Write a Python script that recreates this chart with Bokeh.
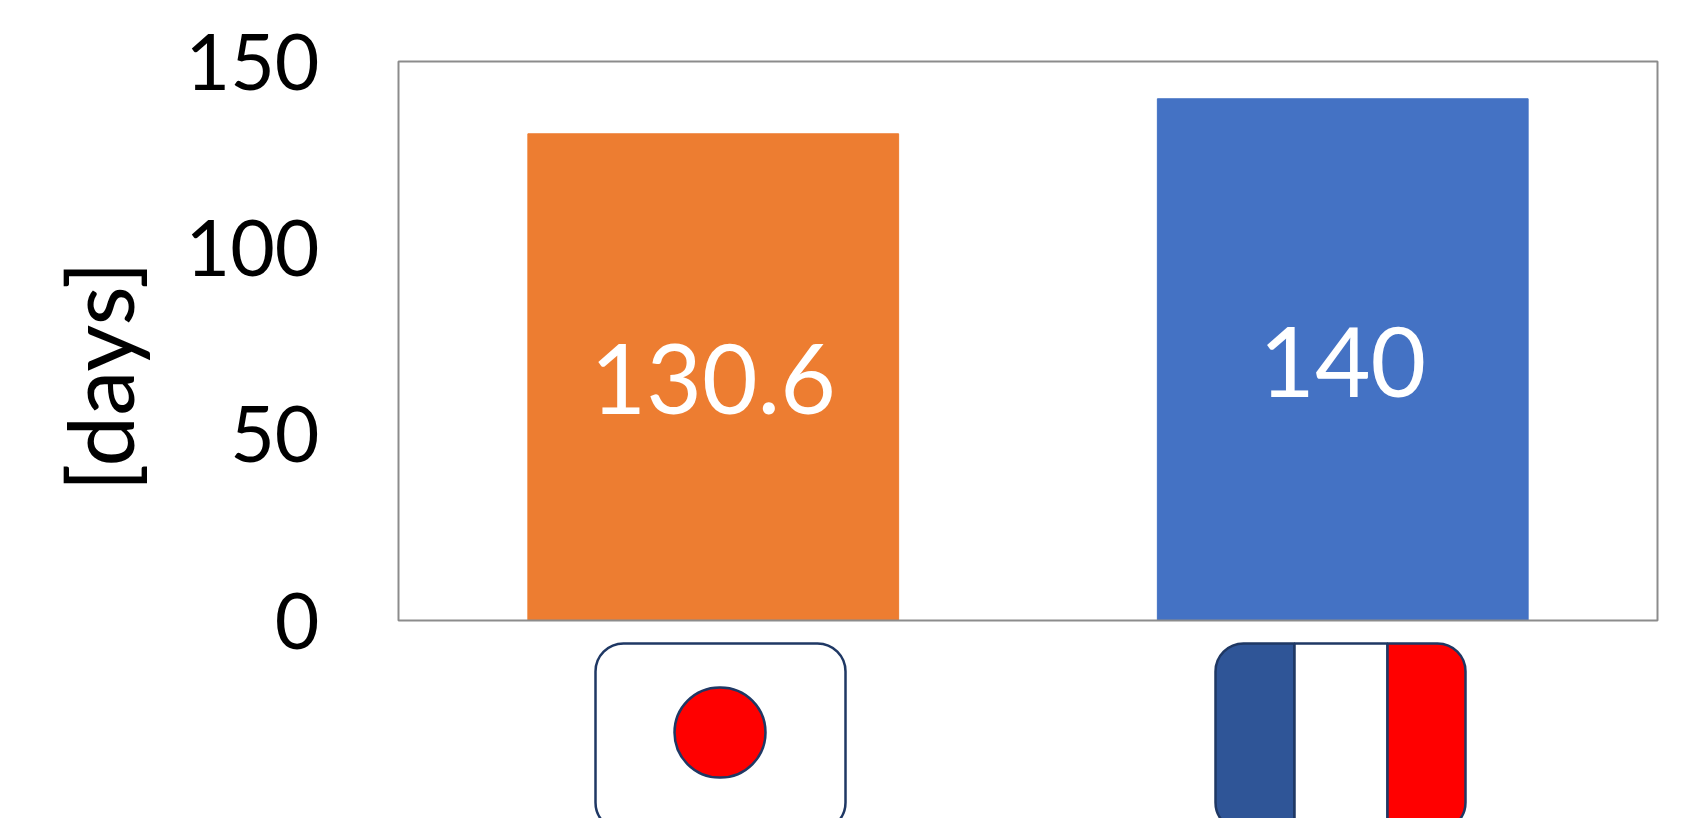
from bokeh.plotting import figure
from bokeh.models import ColumnDataSource, Range1d, FixedTicker, BoxAnnotation, Title
from bokeh.core.properties import value
from bokeh.embed import file_html
from bokeh.resources import INLINE

countries = ["Japan", "France"]
days = [130.6, 140]
labels = ["130.6", "140"]
bar_colors = ["#ED7D31", "#4472C4"]
y_ticks = [0, 50, 100, 150]
FONT = "Lato"

positions = [i + 0.5 for i in range(len(countries))]
src = ColumnDataSource(dict(x=positions, top=days, mid=[d / 2 for d in days],
                            label=labels, color=bar_colors))

# The frame runs down to the page's bottom so that the flags can sit inside it,
# and reaches 2px past the chart's box so that the box's border is not clipped.
PAD = 2
PX_PER_Y = 559 / 150
PX_PER_X = 1259 / 2
p = figure(x_range=Range1d(-PAD / PX_PER_X, 2 + PAD / PX_PER_X),
           y_range=Range1d(-(818 - 620) / PX_PER_Y, 150 + PAD / PX_PER_Y),
           width=1705, height=818, output_backend="svg", toolbar_location=None,
           min_border_left=398 - PAD, min_border_right=48 - PAD,
           min_border_top=61 - PAD, min_border_bottom=0)
p.extra_x_ranges = {"px": Range1d(398 - PAD, 1657 + PAD)}
p.extra_y_ranges = {"px": Range1d(818, 61 - PAD)}
p.vbar(x="x", top="top", width=0.589, color="color", source=src)
p.text(x="x", y="mid", text="label", source=src, text_color="white", text_align="center",
       text_baseline="middle", text_font=value(FONT), text_font_size="96px", y_offset=2)

p.grid.visible = False
p.xaxis.visible = False
ax = p.yaxis[0]
ax.ticker = FixedTicker(ticks=y_ticks)
ax.axis_line_color = None
ax.major_tick_line_color = None
ax.minor_tick_line_color = None
ax.major_label_text_font = FONT
ax.major_label_text_font_size = "77px"
ax.major_label_text_color = "black"
ax.major_label_standoff = 73 - PAD
p.outline_line_color = None
p.background_fill_color = "white"

p.add_layout(Title(text="[days]", align="left", offset=327, standoff=59, text_font=FONT,
                   text_font_style="normal", text_font_size="91px", text_color="black"), "left")

p.add_layout(BoxAnnotation(left=0, right=2, bottom=0, top=150, fill_alpha=0,
                           line_color="#8C8C8C", line_alpha=1, line_width=2, level="overlay"))

EDGE = "#1F3864"


def box(l, r, t, b, fill, radius=0):
    p.add_layout(BoxAnnotation(left=l, right=r, top=t, bottom=b,
                               x_range_name="px", y_range_name="px",
                               fill_color=fill, fill_alpha=1, line_color=EDGE, line_alpha=1,
                               line_width=2.5, border_radius=radius, level="overlay"))


# Japan flag
box(595, 845, 643, 830, "white", 28)
box(674, 765, 687, 777, "#FF0000", 45)
# France flag
box(1215, 1294, 643, 830, "#2F5597", (28, 0, 0, 28))
box(1294, 1387, 643, 830, "white", 0)
box(1387, 1465, 643, 830, "#FF0000", (0, 28, 28, 0))

open("out.html", "w").write(file_html(p, INLINE))
